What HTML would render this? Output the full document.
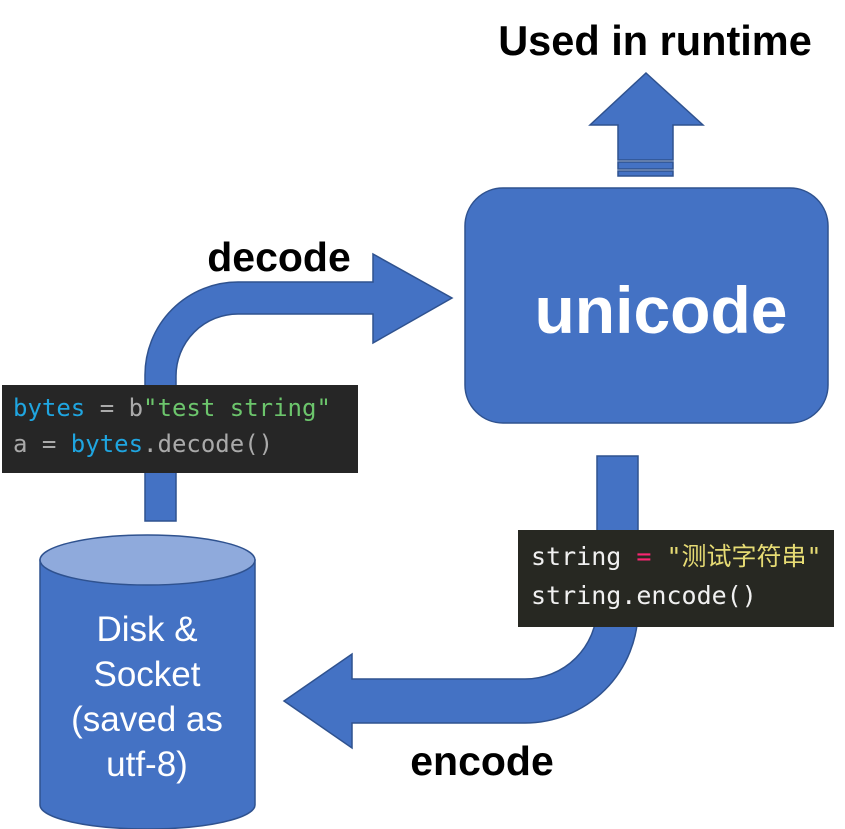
<!DOCTYPE html>
<html><head><meta charset="utf-8"><style>
html,body{margin:0;padding:0;background:#fff;}
body{width:845px;height:829px;position:relative;overflow:hidden;}
.code{position:absolute;background:#262626;font-family:"DejaVu Sans Mono","Liberation Mono","Noto Sans CJK SC",monospace;}
</style></head><body>
<svg width="845" height="829" style="position:absolute;left:0;top:0">
<g fill="#4472C4" stroke="#2F528F" stroke-width="1.5">
<path d="M145,521 L145,375 A93,93 0 0 1 238,282 L373,282 L373,254 L452,298 L373,343 L373,314 L238,314 A62,62 0 0 0 176,376 L176,521 Z"/>
<path d="M597,456 L638,456 L638,610 A113,113 0 0 1 525,723 L352,723 L352,748 L284,701 L352,654 L352,679 L525,679 A72,72 0 0 0 597,607 Z"/>
<rect x="465" y="188" width="363" height="235" rx="38"/>
<path d="M646,73 L703,125 L673,125 L673,160 L618,160 L618,125 L590,125 Z"/>
<rect x="618" y="162" width="55" height="7"/>
<rect x="618" y="171" width="55" height="5"/>
<path d="M40,560 L40,805 A107.5,24 0 0 0 255,805 L255,560 Z"/>
<ellipse cx="147.5" cy="560" rx="107.5" ry="25" fill="#8FAADC"/>
</g>
<g font-family="Liberation Sans, sans-serif" font-weight="bold" text-anchor="middle">
<text x="655" y="55" font-size="41.5">Used in runtime</text>
<text x="279" y="271" font-size="41">decode</text>
<text x="482" y="775" font-size="41">encode</text>
<text x="661" y="333" font-size="66" fill="#fff">unicode</text>
</g>
<g font-family="Liberation Sans, sans-serif" font-size="35" fill="#fff" text-anchor="middle">
<text x="147" y="641">Disk &amp;</text>
<text x="147" y="686">Socket</text>
<text x="147" y="731">(saved as</text>
<text x="147" y="776">utf-8)</text>
</g>
</svg>
<div class="code" style="left:2px;top:385px;width:356px;height:88px;font-size:24px;line-height:36px;padding:5px 0 0 11px;box-sizing:border-box;color:#aaa;white-space:nowrap">
<div><span style="color:#1fa5e0">bytes</span> = b<span style="color:#6cc56c">"test string"</span></div>
<div>a = <span style="color:#1fa5e0">bytes</span>.decode()</div>
</div>
<div class="code" style="left:518px;top:530px;width:316px;height:97px;font-size:25px;line-height:39px;padding:7px 0 0 13px;box-sizing:border-box;color:#f0f0f0;background:#272822;white-space:nowrap">
<div>string <span style="color:#f92672">=</span> <span style="color:#e6db74">"测试字符串"</span></div>
<div>string.encode()</div>
</div>
</body></html>
